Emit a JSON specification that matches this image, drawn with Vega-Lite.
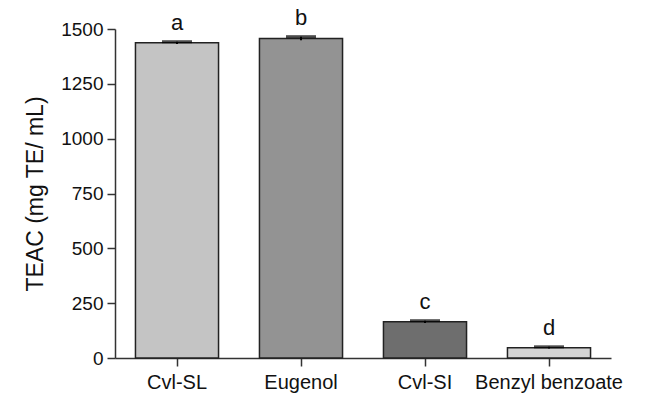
{
  "$schema": "https://vega.github.io/schema/vega-lite/v6.json",
  "width": 496,
  "height": 329,
  "autosize": {"type": "none"},
  "padding": {"left": 115, "top": 29, "right": 42, "bottom": 40},
  "background": "white",
  "config": {
    "view": {"stroke": null},
    "font": "Liberation Sans"
  },
  "data": {
    "values": [
      {"sample": "Cvl-SL", "teac": 1437, "err": 5, "letter": "a"},
      {"sample": "Eugenol", "teac": 1457, "err": 8, "letter": "b"},
      {"sample": "Cvl-SI", "teac": 165, "err": 5, "letter": "c"},
      {"sample": "Benzyl benzoate", "teac": 47, "err": 4, "letter": "d"}
    ]
  },
  "transform": [
    {"calculate": "datum.teac - datum.err", "as": "lo"},
    {"calculate": "datum.teac + datum.err", "as": "hi"}
  ],
  "encoding": {
    "x": {
      "field": "sample",
      "type": "nominal",
      "sort": null,
      "scale": {"paddingInner": 0.33, "paddingOuter": 0.165},
      "axis": {
        "title": null,
        "labelAngle": 0,
        "labelFontSize": 20,
        "labelColor": "#111",
        "labelPadding": 6,
        "tickSize": 8,
        "tickColor": "#333",
        "domainColor": "#333",
        "domainWidth": 1.5,
        "tickWidth": 1.5
      }
    }
  },
  "layer": [
    {
      "mark": {"type": "bar", "stroke": "#222", "strokeWidth": 1.5},
      "encoding": {
        "y": {
          "field": "teac",
          "type": "quantitative",
          "scale": {"domain": [0, 1500], "nice": false},
          "axis": {
            "title": "TEAC (mg TE/ mL)",
            "titleFontSize": 23,
            "titleFontWeight": "normal",
            "titleColor": "#111",
            "titlePadding": 13,
            "values": [0, 250, 500, 750, 1000, 1250, 1500],
            "format": "d",
            "labelFontSize": 19,
            "labelColor": "#111",
            "labelPadding": 4,
            "tickSize": 8,
            "tickColor": "#333",
            "tickWidth": 1.5,
            "domainColor": "#333",
            "domainWidth": 1.5,
            "grid": false
          }
        },
        "color": {
          "field": "sample",
          "type": "nominal",
          "sort": null,
          "scale": {
            "domain": ["Cvl-SL", "Eugenol", "Cvl-SI", "Benzyl benzoate"],
            "range": ["#c4c4c4", "#939393", "#6e6e6e", "#d4d4d4"]
          },
          "legend": null
        }
      }
    },
    {
      "mark": {"type": "rule", "color": "#000", "strokeWidth": 2},
      "encoding": {
        "y": {"field": "lo", "type": "quantitative"},
        "y2": {"field": "hi"}
      }
    },
    {
      "mark": {"type": "tick", "color": "#000", "thickness": 3, "size": 30},
      "encoding": {
        "y": {"field": "hi", "type": "quantitative"}
      }
    },
    {
      "mark": {"type": "text", "baseline": "alphabetic", "dy": -12, "fontSize": 22, "color": "#111"},
      "encoding": {
        "y": {"field": "hi", "type": "quantitative"},
        "text": {"field": "letter"}
      }
    }
  ]
}
